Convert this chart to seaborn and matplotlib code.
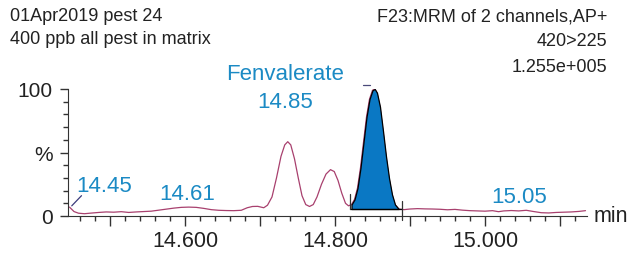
import numpy as np
import pandas as pd
import seaborn as sns
import matplotlib.pyplot as plt
from matplotlib.ticker import MultipleLocator

# retention time (min) and relative intensity (%)
rt_min = [14.446, 14.452, 14.458, 14.466, 14.475, 14.485, 14.495, 14.505, 14.515, 14.525,
          14.535, 14.545, 14.555, 14.565, 14.575, 14.585, 14.595, 14.605, 14.615, 14.625,
          14.635, 14.645, 14.655, 14.665, 14.675, 14.683, 14.690, 14.697, 14.705, 14.710,
          14.716, 14.722, 14.728, 14.733, 14.737, 14.741, 14.746, 14.751, 14.756, 14.761,
          14.766, 14.771, 14.776, 14.782, 14.788, 14.794, 14.799, 14.804, 14.809, 14.814,
          14.818, 14.822, 14.826, 14.830, 14.834, 14.838, 14.842, 14.846, 14.850, 14.853,
          14.856, 14.860, 14.864, 14.868, 14.872, 14.876, 14.880, 14.885, 14.892, 14.900,
          14.910, 14.920, 14.930, 14.940, 14.950, 14.960, 14.970, 14.980, 14.990, 15.000,
          15.010, 15.018, 15.025, 15.035, 15.045, 15.055, 15.065, 15.075, 15.085, 15.095,
          15.105, 15.115, 15.125, 15.134]
intensity = [7.0, 3.5, 2.2, 1.8, 2.3, 2.8, 3.2, 3.0, 3.4, 2.8,
             3.2, 3.5, 3.8, 4.6, 5.4, 6.2, 6.8, 7.0, 6.8, 6.0,
             5.0, 4.5, 4.3, 4.2, 4.5, 6.5, 7.5, 7.6, 6.5, 8.5,
             15, 30, 47, 56, 58.5, 56, 45, 30, 16, 9,
             7.5, 9, 15, 25, 33, 36.5, 35, 28, 18, 10,
             8, 9, 13, 22, 38, 58, 78, 92, 99, 100,
             97, 86, 67, 47, 30, 17, 9, 5.5, 5.0, 5.5,
             5.8, 5.6, 5.5, 5.3, 4.9, 5.2, 4.6, 4.2, 4.0, 3.8,
             4.2, 3.4, 4.0, 4.3, 4.0, 4.5, 3.5, 2.6, 2.4, 2.8,
             3.0, 3.2, 3.6, 4.2]

# integrated peak
peak_name = "Fenvalerate"
peak_rt = "14.85"
peak_start, peak_end, peak_base = 14.820, 14.886, 5.5

# labelled retention times (label, x, baseline y in %)
rt_labels = ["14.45", "14.61", "15.05"]
rt_label_x = [14.492, 14.603, 15.045]
rt_label_y = [19.5, 13.5, 11]

header_left = ["01Apr2019 pest 24", "400 ppb all pest in matrix"]
header_right = ["F23:MRM of 2 channels,AP+", "420>225", "1.255e+005"]

df = pd.DataFrame({"rt": rt_min, "pct": intensity})

sns.set_style("ticks")
plt.rcParams['font.family'] = ['Liberation Sans', 'DejaVu Sans']

fig = plt.figure(figsize=(6.42, 2.55), dpi=100)
ax = fig.add_axes([68 / 642, 1 - 217 / 255, (587 - 68) / 642, (217 - 90) / 255])

trace_col = "#a8406e"
blue = "#1b8ac4"
ink = "#222222"

sns.lineplot(data=df, x="rt", y="pct", ax=ax, color=trace_col, linewidth=0.9)

# filled peak area
x = np.array(rt_min)
y = np.array(intensity)
m = (x >= peak_start) & (x <= peak_end)
ax.fill_between(x[m], peak_base, y[m], color="#0a78c4", edgecolor="black",
                linewidth=0.9, zorder=3)
ax.plot([peak_start, peak_end + 0.004], [peak_base, peak_base], color="black", lw=0.9, zorder=4)
ax.plot([peak_start, peak_start], [peak_base, 17], color="#333333", lw=0.9, zorder=4)
ax.plot([peak_end + 0.004] * 2, [-3, 12], color="#333333", lw=0.9, zorder=4, clip_on=False)
ax.plot([14.837, 14.847], [103, 103], color="#4a4a7a", lw=0.9, clip_on=False)
ax.plot([14.449, 14.462], [8, 16], color="#3a3a7a", lw=0.9)

ax.set_xlim(14.444, 15.136)
ax.set_ylim(0, 100)
ax.set_xlabel("")
ax.set_ylabel("")

major_x = np.round(np.arange(14.5, 15.11, 0.1), 1)
ax.set_xticks(major_x, labels=[f"{v:.3f}" if round(v * 10) % 2 == 0 else "" for v in major_x])
ax.xaxis.set_minor_locator(MultipleLocator(0.02))
ax.set_yticks([0, 50, 100], labels=["0", "%", "100"])
ax.yaxis.set_minor_locator(MultipleLocator(10))
ax.tick_params(axis="x", which="major", length=7, width=1, pad=3, labelsize=15.5, colors="#333333")
ax.tick_params(axis="x", which="minor", length=3.5, width=1, colors="#333333")
ax.tick_params(axis="y", which="major", length=6, width=1, pad=5, labelsize=15, colors="#333333")
ax.tick_params(axis="y", which="minor", length=3.5, width=1, colors="#333333")
for lab in ax.get_xticklabels() + ax.get_yticklabels():
    lab.set_color(ink)
ax.spines["left"].set_color("#333333")
ax.spines["bottom"].set_color("#333333")
sns.despine(ax=ax)

# annotations
ax.text(14.733, 112, peak_name, color=blue, fontsize=16, ha="center", va="center", clip_on=False)
ax.text(14.733, 90, peak_rt, color=blue, fontsize=16, ha="center", va="center", clip_on=False)
for lab, lx, ly in zip(rt_labels, rt_label_x, rt_label_y):
    ax.text(lx, ly, lab, color=blue, fontsize=16, ha="center", va="baseline")
fig.text(594 / 642, 1 - 217 / 255, "min", fontsize=15.5, color=ink, ha="left", va="center")

left_base = [21, 44]
right_base = [21, 46, 72]
for t, b in zip(header_left, left_base):
    fig.text(10 / 642, 1 - b / 255, t, fontsize=13, color=ink, ha="left", va="baseline")
for t, b in zip(header_right, right_base):
    fig.text(607 / 642, 1 - b / 255, t, fontsize=13, color=ink, ha="right", va="baseline")

fig.savefig("out.png", dpi=100)
